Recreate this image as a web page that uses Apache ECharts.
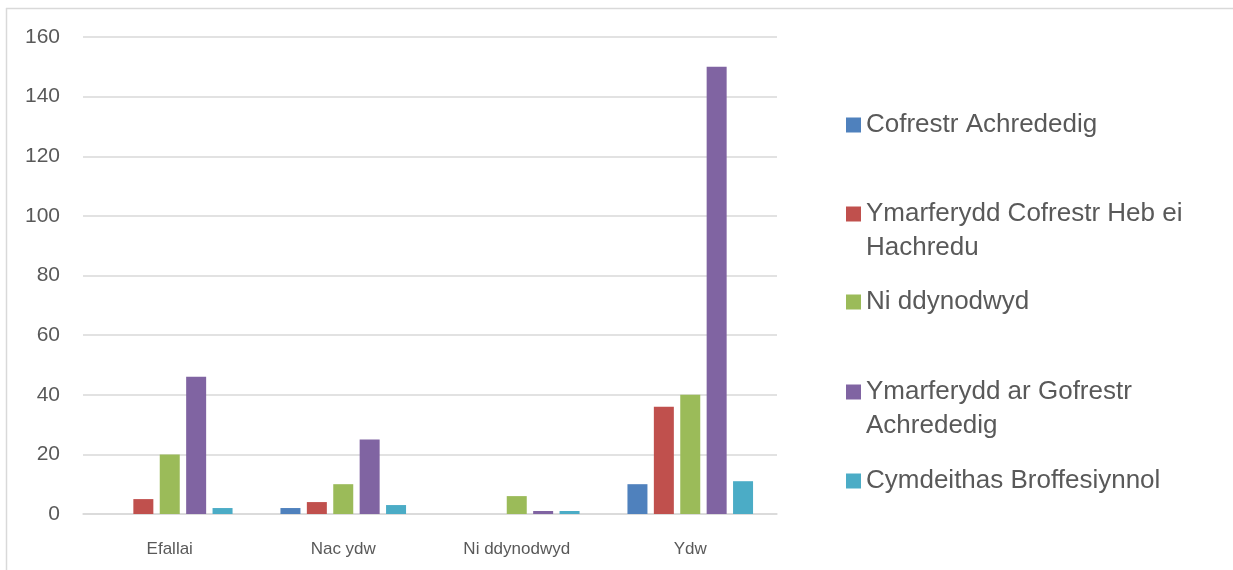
<!DOCTYPE html>
<html>
<head>
<meta charset="utf-8">
<script src="https://cdn.jsdelivr.net/npm/echarts@6/dist/echarts.min.js"></script>
<style>
  html, body { margin: 0; padding: 0; background: #fff; }
  #chart { width: 1233px; height: 570px; }
</style>
</head>
<body>
<div id="chart"></div>
<script>
// categories along the x axis
const categories = ['Efallai', 'Nac ydw', 'Ni ddynodwyd', 'Ydw'];

// one array per series, same order as categories
const cofrestrAchrededig = [0, 2, 0, 10];
const ymarferyddHebHachredu = [5, 4, 0, 36];
const niDdynodwyd = [20, 10, 6, 40];
const ymarferyddArGofrestr = [46, 25, 1, 150];
const cymdeithasBroffesiynnol = [2, 3, 1, 11];

const seriesNames = [
  'Cofrestr Achrededig',
  'Ymarferydd Cofrestr Heb ei Hachredu',
  'Ni ddynodwyd',
  'Ymarferydd ar Gofrestr Achrededig',
  'Cymdeithas Broffesiynnol'
];
// how the legend text wraps in the original
const legendLabels = [
  'Cofrestr Achrededig',
  'Ymarferydd Cofrestr Heb ei\nHachredu',
  'Ni ddynodwyd',
  'Ymarferydd ar Gofrestr\nAchrededig',
  'Cymdeithas Broffesiynnol'
];
const seriesData = [cofrestrAchrededig, ymarferyddHebHachredu, niDdynodwyd, ymarferyddArGofrestr, cymdeithasBroffesiynnol];
const colors = ['#4F81BD', '#C0504D', '#9BBB59', '#8064A2', '#4BACC6'];

const FONT = '"Liberation Sans", Arial, sans-serif';
const LINE_H = 34;
// icon centre of each legend entry
const legendY = [125, 214, 302, 392, 481];

const legends = seriesNames.map((name, i) => {
  const twoLines = legendLabels[i].indexOf('\n') >= 0;
  return {
    orient: 'vertical',
    left: 846,
    top: legendY[i] - (twoLines ? LINE_H * 1.5 : LINE_H / 2),
    padding: 0,
    itemWidth: 15,
    itemHeight: 15,
    itemGap: 0,
    icon: 'rect',
    selectedMode: false,
    data: [name],
    // a blank first line keeps the first text line level with the icon
    formatter: () => (twoLines ? ' \n' : '') + legendLabels[i],
    textStyle: {
      fontFamily: FONT,
      fontSize: 26,
      color: '#595959',
      lineHeight: LINE_H
    }
  };
});

const chart = echarts.init(document.getElementById('chart'));
chart.setOption({
  animation: false,
  color: colors,
  grid: { left: 83, right: 456, top: 37, bottom: 56 },
  legend: legends,
  graphic: [
    { type: 'line', shape: { x1: 6, y1: 8.5, x2: 1233, y2: 8.5 }, style: { stroke: '#d9d9d9', lineWidth: 1.5 } },
    { type: 'line', shape: { x1: 6.5, y1: 8, x2: 6.5, y2: 570 }, style: { stroke: '#d9d9d9', lineWidth: 1.5 } }
  ],
  xAxis: {
    type: 'category',
    data: categories,
    axisTick: { show: false },
    axisLine: { lineStyle: { color: '#d9d9d9', width: 1.5 } },
    axisLabel: { fontFamily: FONT, fontSize: 17, color: '#595959', margin: 27 }
  },
  yAxis: {
    type: 'value',
    min: 0,
    max: 160,
    interval: 20,
    axisLine: { show: false },
    axisTick: { show: false },
    splitLine: { lineStyle: { color: '#d9d9d9', width: 1.5 } },
    axisLabel: { fontFamily: FONT, fontSize: 21, color: '#595959', margin: 23 }
  },
  series: seriesNames.map((name, i) => ({
    name: name,
    type: 'bar',
    data: seriesData[i],
    barWidth: 20,
    barGap: '32%',
    barCategoryGap: '27%'
  }))
});
</script>
</body>
</html>
